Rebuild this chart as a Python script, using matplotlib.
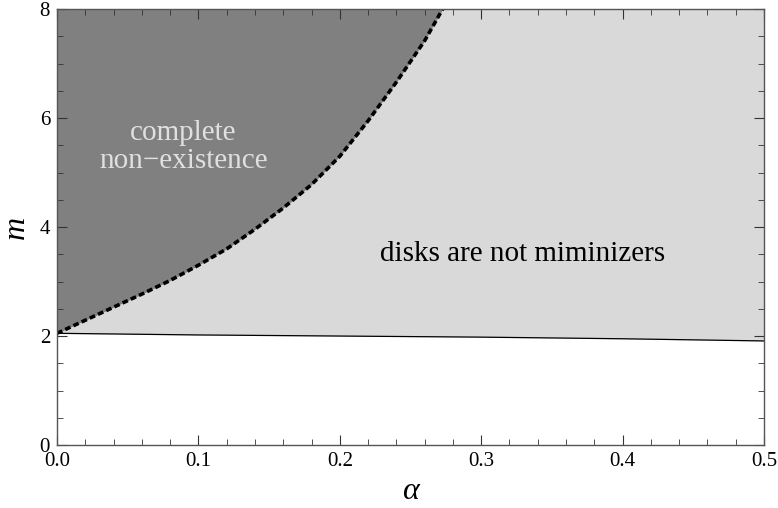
import matplotlib.pyplot as plt
from matplotlib.ticker import MultipleLocator

# boundary of the "complete non-existence" region (dashed curve)
curve_alpha = [0.0, 0.02, 0.04, 0.06, 0.08, 0.10, 0.12, 0.14, 0.16, 0.18,
               0.20, 0.22, 0.24, 0.26, 0.2727]
curve_m = [2.05, 2.29, 2.53, 2.77, 3.02, 3.30, 3.60, 3.96, 4.35, 4.78,
           5.30, 5.95, 6.66, 7.42, 8.0]

# lower boundary where disks stop being minimizers
low_alpha = [0.0, 0.1, 0.2, 0.3, 0.4, 0.5]
low_m = [2.05, 2.02, 2.00, 1.98, 1.95, 1.91]

plt.rcParams['font.family'] = 'serif'
plt.rcParams['font.serif'] = ['Liberation Serif', 'DejaVu Serif']

fig = plt.figure(figsize=(7.78, 5.08), dpi=100)
ax = fig.add_axes([0.0733, 0.124, 0.9087, 0.858])

ax.fill_between(low_alpha, low_m, 8, color='#d9d9d9', lw=0)
ax.fill_between(curve_alpha, curve_m, 8, color='#808080', lw=0)
ax.plot(low_alpha, low_m, color='black', lw=0.9)
ax.plot(curve_alpha, curve_m, color='black', lw=2.6, linestyle=(0, (1.6, 0.9)), solid_capstyle='butt')

ax.text(0.0895, 5.47, "complete\nnon\u2212existence", color='#e0e0e0', fontsize=21,
        ha='center', va='center', linespacing=1.1)
ax.text(0.3292, 3.50, "disks are not miminizers", color='black', fontsize=21,
        ha='center', va='center')

ax.set_xlim(0, 0.5)
ax.set_ylim(0, 8)
ax.xaxis.set_major_locator(MultipleLocator(0.1))
ax.xaxis.set_minor_locator(MultipleLocator(0.02))
ax.yaxis.set_major_locator(MultipleLocator(2))
ax.yaxis.set_minor_locator(MultipleLocator(0.5))
ax.set_xticks([0, 0.1, 0.2, 0.3, 0.4, 0.5])
ax.set_xticklabels(['0.0', '0.1', '0.2', '0.3', '0.4', '0.5'])
ax.tick_params(which='both', direction='in', top=True, right=True, labelsize=15, color='#333333')
ax.tick_params(axis='x', pad=5)
ax.tick_params(axis='y', pad=5)
ax.tick_params(which='major', length=7, width=0.8)
ax.tick_params(which='minor', length=4, width=0.6)
for s in ax.spines.values():
    s.set_color('#555555')
    s.set_linewidth(1.0)

ax.set_xlabel("\u03b1", fontsize=23, style='italic', labelpad=4)
ax.set_ylabel("m", fontsize=23, style='italic', labelpad=6)

plt.savefig('out.png', dpi=100)
